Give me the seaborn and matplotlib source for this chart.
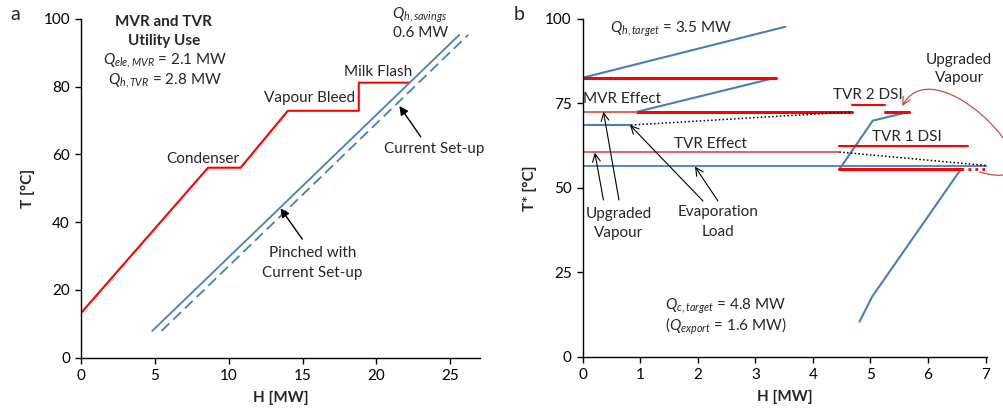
import numpy as np
import pandas as pd
import matplotlib
matplotlib.use("Agg")
import matplotlib.pyplot as plt
from matplotlib.path import Path
from matplotlib.patches import FancyArrowPatch
import seaborn as sns

# ---- dados painel a (curvas compostas) ----
quente_H = [0.0, 8.6, 10.8, 14.0, 18.8, 18.8, 22.2]
quente_T = [13.2, 56.1, 56.1, 72.9, 72.9, 81.2, 81.2]
fria_pinch_H = [4.82, 25.6]
fria_pinch_T = [7.9, 95.3]
fria_atual_H = [5.45, 26.2]
fria_atual_T = [7.9, 95.3]

# ---- dados painel b (curvas de utilidade/evaporador) ----
azul_topo_H = [0.0, 3.52]
azul_topo_T = [82.6, 97.7]
azul_mvr_H = [3.35, 0.94]
azul_mvr_T = [82.6, 72.5]
azul_evap1_H = [0.0, 0.84]
azul_evap1_T = [68.6, 68.6]
azul_evap2_H = [0.0, 7.02]
azul_evap2_T = [56.6, 56.6]
azul_tvr_H = [5.67, 5.04, 4.46]
azul_tvr_T = [72.5, 69.9, 55.5]
azul_baixo_H = [6.57, 5.03, 4.81]
azul_baixo_T = [55.5, 17.8, 10.4]

vermelho_grosso = [  # (H0, H1, T)
    (0.0, 3.35, 82.6),
    (0.94, 4.68, 72.5),
    (5.25, 5.67, 72.5),
    (4.46, 6.57, 55.5),
]
vermelho_fino = [
    (0.0, 0.94, 72.5),
    (0.0, 4.46, 60.6),
]
vermelho_dsi = [
    (4.68, 5.25, 74.5),
    (4.46, 6.70, 62.5),
]
pontilhado_H = [[0.84, 4.68], [4.46, 7.02]]
pontilhado_T = [[68.6, 72.5], [60.6, 56.6]]

sns.set_theme(style="white")
plt.rcParams['font.family'] = ['Lato', 'DejaVu Sans']
plt.rcParams['mathtext.fontset'] = 'custom'
plt.rcParams['mathtext.rm'] = 'Lato'
plt.rcParams['mathtext.it'] = 'Lato:italic'
plt.rcParams['mathtext.bf'] = 'Lato:bold'

AZUL = '#4a7ebb'
VERM = '#ff0000'
VERM_FINO = '#d9595a'
FS = 11

fig = plt.figure(figsize=(10.04, 4.2), dpi=100)
ax1 = fig.add_axes([0.0807, 0.1483, 0.3973, 0.8065])
ax2 = fig.add_axes([0.5804, 0.1507, 0.4024, 0.8041])


def linha(ax, H, T, **kw):
    df = pd.DataFrame({'H': H, 'T': T})
    sns.lineplot(data=df, x='H', y='T', sort=False, estimator=None, ax=ax, **kw)


def estilo(ax):
    for s in ['top', 'right']:
        ax.spines[s].set_visible(False)
    for s in ['left', 'bottom']:
        ax.spines[s].set_color('black')
        ax.spines[s].set_linewidth(1.0)
    ax.tick_params(axis='both', direction='out', length=4, width=1, color='black',
                   labelsize=FS, labelcolor='black', left=True, bottom=True, pad=4)
    ax.grid(False)


def texto(ax, x, y, s, **kw):
    ax.text(x, y, s, ha=kw.pop('ha', 'center'), va='center', fontsize=FS, **kw)


# ---------------- painel a ----------------
linha(ax1, quente_H, quente_T, color=VERM, lw=1.5)
linha(ax1, fria_pinch_H, fria_pinch_T, color=AZUL, lw=1.3)
linha(ax1, fria_atual_H, fria_atual_T, color=AZUL, lw=1.3, dashes=False)
ax1.lines[-1].set_dashes([6, 3])
ax1.set_xlim(0, 27)
ax1.set_ylim(0, 100)
ax1.set_xticks([0, 5, 10, 15, 20, 25])
ax1.set_yticks([0, 20, 40, 60, 80, 100])
ax1.set_xlabel('H [MW]', fontsize=FS, fontweight='bold', labelpad=6)
ax1.set_ylabel('T [°C]', fontsize=FS, fontweight='bold', labelpad=6)
estilo(ax1)

texto(ax1, 5.56, 99.2, 'MVR and TVR', fontweight='bold')
texto(ax1, 5.6, 93.5, 'Utility Use', fontweight='bold')
texto(ax1, 5.7, 87.6, r'$Q_{ele,MVR}$ = 2.1 MW')
texto(ax1, 5.7, 81.9, r'$Q_{h,TVR}$ = 2.8 MW')
texto(ax1, 20.1, 84.4, 'Milk Flash')
texto(ax1, 15.5, 76.8, 'Vapour Bleed')
texto(ax1, 8.26, 58.7, 'Condenser')
texto(ax1, 23.9, 61.6, 'Current Set-up')
texto(ax1, 15.65, 30.9, 'Pinched with')
texto(ax1, 15.65, 25.0, 'Current Set-up')
texto(ax1, 22.95, 101.0, r'$Q_{h,savings}$')
texto(ax1, 22.95, 95.9, '0.6 MW')

seta_a = dict(arrowstyle='-|>', color='black', lw=1.0, mutation_scale=13, shrinkA=0, shrinkB=0)
ax1.annotate('', xy=(21.55, 74.3), xytext=(23.0, 65.2), arrowprops=seta_a)
ax1.annotate('', xy=(13.5, 44.1), xytext=(14.98, 35.0), arrowprops=seta_a)

# ---------------- painel b ----------------
linha(ax2, azul_topo_H, azul_topo_T, color=AZUL, lw=1.5)
linha(ax2, azul_mvr_H, azul_mvr_T, color=AZUL, lw=1.5)
linha(ax2, azul_evap1_H, azul_evap1_T, color=AZUL, lw=1.5)
linha(ax2, azul_evap2_H, azul_evap2_T, color=AZUL, lw=1.3)
linha(ax2, azul_tvr_H, azul_tvr_T, color=AZUL, lw=1.5)
linha(ax2, azul_baixo_H, azul_baixo_T, color=AZUL, lw=1.5)
for h0, h1, t in vermelho_grosso:
    linha(ax2, [h0, h1], [t, t], color=VERM, lw=2.2)
for h0, h1, t in vermelho_fino:
    linha(ax2, [h0, h1], [t, t], color=VERM_FINO, lw=1.3)
for h0, h1, t in vermelho_dsi:
    linha(ax2, [h0, h1], [t, t], color=VERM, lw=1.5)
for hh, tt in zip(pontilhado_H, pontilhado_T):
    ax2.plot(hh, tt, color='black', lw=1.1, ls=(0, (1, 1.5)))
ax2.plot([6.57, 7.02], [55.5, 55.5], color=VERM, lw=2.0, ls=(0, (1, 1.5)), clip_on=False)

ax2.set_xlim(0, 7.02)
ax2.set_ylim(0, 100)
ax2.set_xticks(range(0, 8))
ax2.set_yticks([0, 25, 50, 75, 100])
ax2.set_xlabel('H [MW]', fontsize=FS, fontweight='bold', labelpad=6)
ax2.set_ylabel('T* [°C]', fontsize=FS, fontweight='bold', labelpad=6)
estilo(ax2)

texto(ax2, 1.53, 97.0, r'$Q_{h,target}$ = 3.5 MW')
texto(ax2, 0.01, 76.3, 'MVR Effect', ha='left')
texto(ax2, 2.22, 63.0, 'TVR Effect')
texto(ax2, 4.95, 77.5, 'TVR 2 DSI')
texto(ax2, 5.63, 65.1, 'TVR 1 DSI')
texto(ax2, 6.54, 88.0, 'Upgraded')
texto(ax2, 6.54, 82.4, 'Vapour')
texto(ax2, 0.63, 42.3, 'Upgraded')
texto(ax2, 0.63, 36.5, 'Vapour')
texto(ax2, 2.35, 42.8, 'Evaporation')
texto(ax2, 2.35, 36.8, 'Load')
texto(ax2, 2.48, 14.8, r'$Q_{c,target}$ = 4.8 MW')
texto(ax2, 2.48, 8.9, r'($Q_{export}$ = 1.6 MW)')

seta_b = dict(arrowstyle='->', color='black', lw=0.8, mutation_scale=14, shrinkA=0, shrinkB=0)
ax2.annotate('', xy=(0.21, 60.4), xytext=(0.36, 46.4), arrowprops=seta_b)
ax2.annotate('', xy=(0.36, 72.5), xytext=(0.63, 46.4), arrowprops=seta_b)
ax2.annotate('', xy=(0.82, 68.6), xytext=(2.09, 46.1), arrowprops=seta_b)
ax2.annotate('', xy=(1.95, 56.3), xytext=(2.35, 46.1), arrowprops=seta_b)

# seta curva vermelha (vapor recomprimido)
curva = Path([(6.89, 54.7), (8.62, 46.4), (6.19, 93.8), (5.55, 74.2)],
             [Path.MOVETO, Path.CURVE4, Path.CURVE4, Path.CURVE4])
seta_curva = FancyArrowPatch(path=curva, arrowstyle='->', color='#c0504d', lw=0.9,
                             mutation_scale=14, transform=ax2.transData, clip_on=False)
ax2.add_patch(seta_curva)

fig.text(15 / 1004, 1 - 15 / 420, 'a', ha='center', va='center', fontsize=14)
fig.text(519 / 1004, 1 - 15 / 420, 'b', ha='center', va='center', fontsize=14)

fig.savefig('out.png', dpi=100)
